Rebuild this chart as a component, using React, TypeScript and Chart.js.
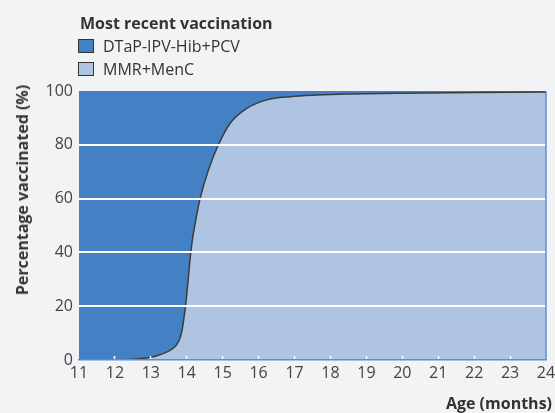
import React, { useEffect, useRef } from "react";
import { Chart, registerables } from "chart.js";

Chart.register(...registerables);

const xTicks = [11, 12, 13, 14, 15, 16, 17, 18, 19, 20, 21, 22, 23, 24];
const yTicks = [0, 20, 40, 60, 80, 100];

// Age in months where MMR+MenC cumulative share was read
const mmrAges = [12, 12.5, 13, 13.3, 13.58, 13.77, 13.86, 13.92, 13.97, 14.04, 14.1, 14.16, 14.23, 14.3, 14.37, 14.6, 14.88, 15.21, 15.67, 16.23, 16.88, 17.62, 18.5, 20, 22, 24];
const mmrValues = [0, 0.3, 1, 2.2, 4, 6.8, 10.5, 15.5, 20.5, 30, 38.5, 45, 50.5, 55.5, 60, 70.5, 80, 88, 93.5, 96.7, 97.9, 98.5, 98.9, 99.2, 99.4, 99.6];

// DTaP-IPV-Hib+PCV occupies the remainder up to 100%
const dtapAges = [11, 24];
const dtapValues = [100, 100];

const legendTitle = "Most recent vaccination";
const seriesNames = ["DTaP-IPV-Hib+PCV", "MMR+MenC"];
const seriesColors = ["#4480c4", "#afc3e3"];
const xTitle = "Age (months)";
const yTitle = "Percentage vaccinated (%)";

const FONT = "'Open Sans', sans-serif";

export default function App() {
  const ref = useRef<HTMLCanvasElement | null>(null);

  useEffect(() => {
    document.body.style.margin = "0";
    const canvas = ref.current;
    if (!canvas) return;

    const rightBorder = {
      id: "rightBorder",
      afterDraw(chart: any) {
        const { ctx, chartArea } = chart;
        ctx.save();
        ctx.strokeStyle = "#5b8fd3";
        ctx.lineWidth = 1.5;
        ctx.beginPath();
        ctx.moveTo(chartArea.right, chartArea.top);
        ctx.lineTo(chartArea.right, chartArea.bottom);
        ctx.stroke();
        ctx.restore();
      },
    };

    const chart = new Chart(canvas, {
      type: "line",
      data: {
        datasets: [
          {
            label: seriesNames[0],
            data: dtapAges.map((x, i) => ({ x, y: dtapValues[i] })),
            backgroundColor: seriesColors[0],
            borderWidth: 0,
            pointRadius: 0,
            fill: "origin",
            order: 2,
          },
          {
            label: seriesNames[1],
            data: mmrAges.map((x, i) => ({ x, y: mmrValues[i] })),
            backgroundColor: seriesColors[1],
            borderColor: "#3c3c3c",
            borderWidth: 1.5,
            pointRadius: 0,
            fill: "origin",
            cubicInterpolationMode: "monotone",
            order: 1,
          },
        ],
      },
      options: {
        responsive: false,
        animation: false,
        devicePixelRatio: 1,
        layout: { padding: { top: 91, right: 9, left: 0, bottom: 0 } },
        plugins: { legend: { display: false }, tooltip: { enabled: false } },
        scales: {
          x: {
            type: "linear",
            min: xTicks[0],
            max: xTicks[xTicks.length - 1],
            afterBuildTicks: (scale: any) => {
              scale.ticks = xTicks.map((v) => ({ value: v }));
            },
            afterFit: (scale: any) => {
              scale.height = 53;
              scale.paddingLeft = 0;
              scale.paddingRight = 0;
            },
            ticks: {
              autoSkip: false,
              maxRotation: 0,
              padding: 8,
              color: "#444",
              font: { family: FONT, size: 16 },
            },
            grid: {
              z: 1,
              drawOnChartArea: false,
              drawTicks: true,
              tickLength: -4,
              tickWidth: 1.5,
              tickColor: (ctx: any) =>
                ctx.tick && (ctx.tick.value === xTicks[0] || ctx.tick.value === xTicks[xTicks.length - 1])
                  ? "rgba(0,0,0,0)"
                  : "#ffffff",
            },
            border: { display: true, color: "#5b8fd3", width: 1.5, z: 2 },
          },
          y: {
            min: 0,
            max: 100,
            afterBuildTicks: (scale: any) => {
              scale.ticks = yTicks.map((v) => ({ value: v }));
            },
            afterFit: (scale: any) => {
              scale.width = 79;
              scale.paddingTop = 0;
              scale.paddingBottom = 0;
            },
            ticks: {
              padding: 6,
              color: "#444",
              font: { family: FONT, size: 16 },
            },
            grid: {
              z: 1,
              drawTicks: false,
              lineWidth: 2,
              color: (ctx: any) =>
                ctx.tick && (ctx.tick.value === 0 || ctx.tick.value === 100) ? "rgba(0,0,0,0)" : "#ffffff",
            },
            border: { display: false },
          },
        },
      },
      plugins: [rightBorder],
    });

    return () => chart.destroy();
  }, []);

  const text: React.CSSProperties = {
    position: "absolute",
    fontFamily: FONT,
    fontSize: 16,
    color: "#333",
    whiteSpace: "nowrap",
    lineHeight: "20px",
  };

  return (
    <div style={{ position: "relative", width: 555, height: 413, background: "#f2f3f5", overflow: "hidden" }}>
      <canvas ref={ref} width={555} height={413} style={{ position: "absolute", left: 0, top: 0 }} />
      <div style={{ ...text, left: 80, top: 13, fontWeight: 700 }}>{legendTitle}</div>
      {seriesNames.map((name, i) => (
        <div key={name} style={{ ...text, left: 78, top: 36 + i * 23, display: "flex", alignItems: "center" }}>
          <span
            style={{
              display: "inline-block",
              width: 14,
              height: 12,
              background: seriesColors[i],
              border: "1px solid #333",
              marginRight: 9,
            }}
          />
          <span>{name}</span>
        </div>
      ))}
      <div
        style={{
          ...text,
          left: 22,
          top: 190,
          fontWeight: 700,
          transform: "translate(-50%, -50%) rotate(-90deg)",
        }}
      >
        {yTitle}
      </div>
      <div style={{ ...text, right: 3, top: 393, fontWeight: 700 }}>{xTitle}</div>
    </div>
  );
}
